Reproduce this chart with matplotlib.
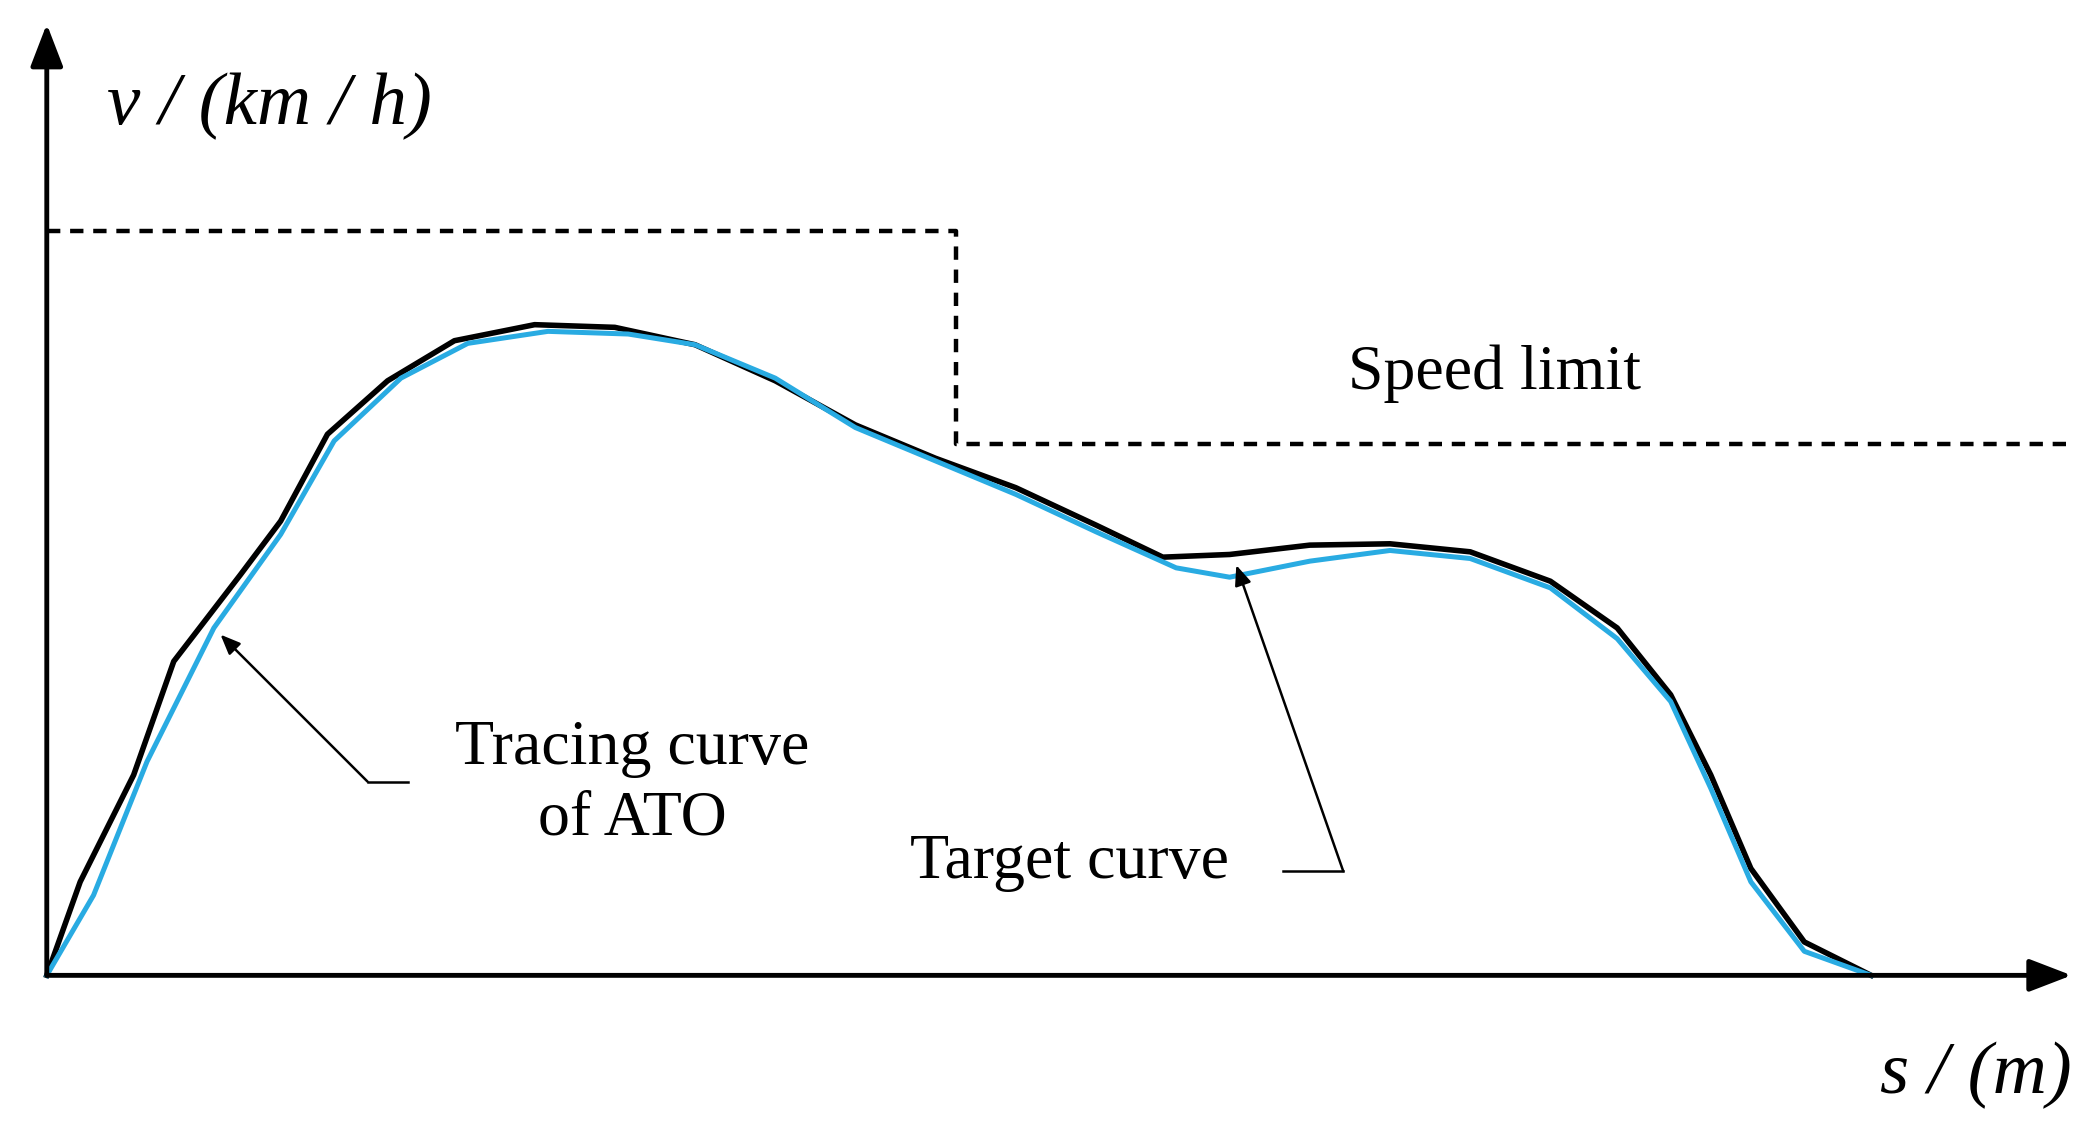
import matplotlib.pyplot as plt

# distance (s) and speed (v), arbitrary units
s_trace = [0, 25, 65, 95, 145, 175, 210, 255, 305, 365, 425, 485, 545, 605, 665, 725, 785, 835, 885, 945, 1005, 1065, 1125, 1175, 1215, 1245, 1275, 1315, 1365]
v_trace = [0, 70, 150, 235, 300, 340, 405, 445, 475, 487, 485, 472, 445, 412, 387, 365, 337, 313, 315, 322, 323, 317, 295, 260, 210, 150, 80, 25, 0]
s_target = [0, 35, 75, 125, 175, 215, 265, 315, 375, 435, 485, 545, 605, 665, 725, 785, 845, 885, 945, 1005, 1065, 1125, 1175, 1215, 1245, 1275, 1315, 1365]
v_target = [0, 60, 160, 260, 330, 400, 447, 473, 482, 480, 472, 447, 410, 385, 360, 332, 305, 298, 310, 318, 312, 290, 252, 205, 140, 70, 18, 0]
s_limit = [0, 680, 680, 1513]
v_limit = [557, 557, 398, 398]

plt.rcParams['font.family'] = ['Liberation Serif', 'DejaVu Serif']
fig = plt.figure(figsize=(20.85, 11.25), dpi=100)
ax = fig.add_axes([0, 0, 1, 1])
ax.set_xlim(-35, 1525)
ax.set_ylim(-112, 730)
ax.axis('off')

ax.plot(s_limit, v_limit, color='black', lw=3.2, ls=(0, (3, 2.2)))
ax.plot(s_trace, v_trace, color='black', lw=4, solid_joinstyle='round')
ax.plot(s_target, v_target, color='#29ABE2', lw=3.6, solid_joinstyle='round')

arr = dict(arrowstyle='-|>,head_length=2.6,head_width=1.0', color='black', lw=3.5, shrinkA=0, shrinkB=0)
ax.annotate('', xy=(0, 712), xytext=(0, 0), arrowprops=arr)
ax.annotate('', xy=(1515, 0), xytext=(0, 0), arrowprops=arr)

ax.text(45, 650, 'v / (km / h)', fontsize=54, style='italic', ha='left', va='center')
ax.text(1515, -75, 's / (m)', fontsize=54, style='italic', ha='right', va='center')
ax.text(1083, 450, 'Speed limit', fontsize=46, ha='center', va='center')
ax.text(438, 143, 'Tracing curve\nof ATO', fontsize=46, ha='center', va='center', linespacing=1.3)
ax.text(765, 84, 'Target curve', fontsize=46, ha='center', va='center')

small = dict(arrowstyle='-|>,head_length=1.2,head_width=0.5', color='black', lw=1.8, shrinkA=0, shrinkB=0)
ax.plot([240, 270], [145, 145], color='black', lw=1.8)
ax.annotate('', xy=(130, 255), xytext=(240, 145), arrowprops=small)
ax.plot([925, 970], [78, 78], color='black', lw=1.8)
ax.annotate('', xy=(890, 307), xytext=(970, 78), arrowprops=small)

fig.savefig('out.png', dpi=100)
